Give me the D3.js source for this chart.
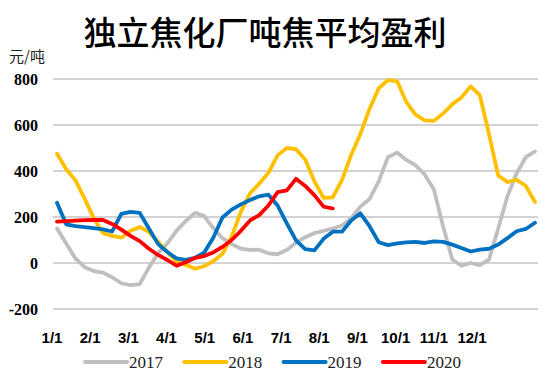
<!DOCTYPE html>
<html>
<head>
<meta charset="utf-8">
<script src="https://cdn.jsdelivr.net/npm/d3@7"></script>
<style>
  body { margin: 0; background: #fff; }
  svg { display: block; }
</style>
</head>
<body>
<svg id="chart" width="550" height="386"></svg>
<script>
// weekly values (yuan / ton)
var monthLabels = ["1/1","2/1","3/1","4/1","5/1","6/1","7/1","8/1","9/1","10/1","11/1","12/1"];
var yTicks = [-200, 0, 200, 400, 600, 800];
var seriesNames = ["2017","2018","2019","2020"];
var seriesColors = ["#bfbfbf","#ffc000","#0070c0","#ff0000"];

var v2017 = [150,85,20,-18,-35,-42,-62,-88,-96,-92,-20,42,85,140,182,218,205,152,108,82,
             63,57,58,42,38,57,88,112,130,140,150,163,195,245,278,355,460,480,448,425,
             385,320,160,15,-12,0,-9,15,150,290,390,460,485];
var v2018 = [475,408,360,280,195,130,118,110,140,157,135,92,48,5,-8,-25,-14,8,40,115,
             222,303,345,392,468,500,495,450,355,283,285,360,470,560,670,760,795,790,700,645,
             620,618,650,690,720,768,730,560,380,352,362,335,265];
var v2019 = [262,168,160,156,152,146,137,214,222,218,150,82,48,20,14,22,45,110,198,232,
             255,274,290,297,250,172,98,60,55,105,136,136,185,216,160,90,78,85,90,92,
             87,94,92,80,65,50,58,62,80,108,138,148,175];
var v2020 = [180,182,184,186,187,187,170,145,118,95,62,35,13,-12,3,22,30,46,70,100,
             140,185,208,250,308,316,366,335,295,245,237];

var allSeries = [v2017, v2018, v2019, v2020];

var svg = d3.select("#chart");

var x = d3.scaleLinear().domain([0, 52]).range([57, 535]);
var y = d3.scaleLinear().domain([-200, 800]).range([309, 79]);
var xLab = d3.scalePoint().domain(monthLabels).range([52, 472]);

// title
svg.append("text")
  .attr("x", 265).attr("y", 45)
  .attr("text-anchor", "middle")
  .attr("font-family", "'Noto Sans CJK SC', sans-serif")
  .attr("font-weight", 500)
  .attr("font-size", 33)
  .attr("fill", "#000")
  .text("独立焦化厂吨焦平均盈利");

svg.append("text")
  .attr("x", 9).attr("y", 62)
  .attr("font-family", "'Noto Sans CJK SC', sans-serif")
  .attr("font-size", 15)
  .attr("fill", "#222")
  .text("元/吨");

// gridlines
svg.append("g").selectAll("line").data(yTicks).enter().append("line")
  .attr("x1", 53).attr("x2", 538)
  .attr("y1", function(d){ return y(d); })
  .attr("y2", function(d){ return y(d); })
  .attr("stroke", "#a6a6a6")
  .attr("stroke-width", 1);

// y labels
svg.append("g").selectAll("text").data(yTicks).enter().append("text")
  .attr("x", 38)
  .attr("y", function(d){ return y(d) + 5.5; })
  .attr("text-anchor", "end")
  .attr("font-family", "'Liberation Serif', serif")
  .attr("font-weight", "bold")
  .attr("font-size", 16)
  .attr("fill", "#000")
  .text(function(d){ return d; });

// x labels
svg.append("g").selectAll("text").data(monthLabels).enter().append("text")
  .attr("x", function(d){ return xLab(d); })
  .attr("y", 343)
  .attr("text-anchor", "middle")
  .attr("font-family", "'Liberation Sans', sans-serif")
  .attr("font-weight", "bold")
  .attr("font-size", 15)
  .attr("fill", "#000")
  .text(function(d){ return d; });

// lines
var line = d3.line()
  .x(function(d, i){ return x(i); })
  .y(function(d){ return y(d); });

svg.append("g").selectAll("path").data(allSeries).enter().append("path")
  .attr("d", line)
  .attr("fill", "none")
  .attr("stroke", function(d, i){ return seriesColors[i]; })
  .attr("stroke-width", 3.8)
  .attr("stroke-linejoin", "round")
  .attr("stroke-linecap", "round");

// legend
var legend = svg.append("g").selectAll("g").data(seriesNames).enter().append("g")
  .attr("transform", function(d, i){ return "translate(" + (85 + i * 99.3) + ",362)"; });

legend.append("line")
  .attr("x1", 0).attr("x2", 42)
  .attr("y1", 0).attr("y2", 0)
  .attr("stroke", function(d, i){ return seriesColors[i]; })
  .attr("stroke-width", 4)
  .attr("stroke-linecap", "round");

legend.append("text")
  .attr("x", 44).attr("y", 6)
  .attr("font-family", "'Liberation Serif', serif")
  .attr("font-size", 17)
  .attr("fill", "#222")
  .text(function(d){ return d; });
</script>
</body>
</html>
